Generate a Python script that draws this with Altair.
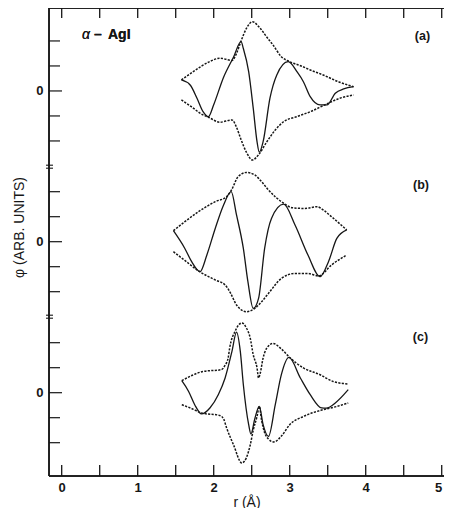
import altair as alt
import pandas as pd

# ---------------- data (r in Å, phi in tick units, per panel) ----------------
panels = ["a", "b", "c"]
panel_offsets = [6.03, 0.0, -6.04]          # vertical stacking of the three panels
panel_labels = ["(a)", "(b)", "(c)"]

# panel (a)
a_up_r = [1.575, 1.73, 1.95, 2.08, 2.24, 2.30, 2.36, 2.43, 2.51, 2.61, 2.70, 2.78, 2.89, 3.00, 3.15, 3.27, 3.44, 3.64, 3.84]
a_up_phi = [0.44, 0.77, 1.18, 1.31, 1.22, 1.50, 2.00, 2.50, 2.77, 2.51, 2.15, 1.84, 1.37, 1.17, 1.00, 0.84, 0.64, 0.37, 0.17]
a_lo_r = [1.575, 1.70, 1.86, 1.93, 2.08, 2.24, 2.30, 2.36, 2.43, 2.51, 2.59, 2.70, 2.81, 2.92, 3.09, 3.27, 3.46, 3.66, 3.84]
a_lo_phi = [-0.36, -0.62, -0.96, -1.05, -1.25, -1.16, -1.45, -1.95, -2.45, -2.76, -2.55, -2.03, -1.56, -1.23, -1.03, -0.83, -0.56, -0.29, -0.16]
a_re_r = [1.575, 1.69, 1.78, 1.86, 1.93, 2.00, 2.13, 2.26, 2.36, 2.39, 2.46, 2.52, 2.57, 2.60, 2.65, 2.74, 2.83, 2.98, 3.10, 3.18, 3.27, 3.40, 3.49, 3.60, 3.71, 3.84]
a_re_phi = [0.44, 0.24, -0.29, -0.83, -1.03, -0.55, 0.55, 1.35, 1.97, 1.70, 0.77, -0.69, -2.03, -2.45, -2.03, -0.29, 0.64, 1.17, 0.75, 0.37, -0.23, -0.56, -0.56, -0.09, 0.08, 0.17]

# panel (b)
b_up_r = [1.47, 1.62, 1.80, 2.02, 2.17, 2.24, 2.32, 2.43, 2.54, 2.63, 2.72, 2.92, 3.03, 3.20, 3.36, 3.45, 3.55, 3.75]
b_up_phi = [0.44, 0.80, 1.20, 1.60, 1.80, 2.10, 2.60, 2.77, 2.67, 2.40, 2.07, 1.54, 1.36, 1.33, 1.40, 1.25, 1.00, 0.47]
b_lo_r = [1.47, 1.62, 1.80, 2.02, 2.15, 2.22, 2.30, 2.43, 2.54, 2.63, 2.72, 2.89, 3.07, 3.24, 3.38, 3.55, 3.75]
b_lo_phi = [-0.40, -0.75, -1.17, -1.53, -1.73, -2.05, -2.53, -2.80, -2.67, -2.40, -2.07, -1.47, -1.27, -1.27, -1.37, -0.93, -0.53]
b_re_r = [1.47, 1.62, 1.71, 1.82, 1.91, 2.02, 2.13, 2.23, 2.30, 2.39, 2.45, 2.52, 2.59, 2.67, 2.76, 2.92, 3.07, 3.24, 3.40, 3.51, 3.62, 3.75]
b_re_phi = [0.44, -0.27, -0.80, -1.20, -0.53, 0.53, 1.47, 2.00, 1.07, -0.27, -1.60, -2.67, -2.27, -0.27, 0.93, 1.50, 0.67, -0.53, -1.40, -0.80, 0.13, 0.47]

# panel (c)
c_up_r = [1.58, 1.72, 1.86, 2.10, 2.15, 2.19, 2.21, 2.28, 2.37, 2.43, 2.48, 2.52, 2.57, 2.59, 2.61, 2.65, 2.70, 2.78, 2.89, 3.00, 3.18, 3.40, 3.57, 3.77]
c_up_phi = [0.48, 0.70, 0.85, 0.92, 1.10, 1.39, 1.79, 2.45, 2.79, 2.59, 2.19, 1.52, 0.99, 0.59, 0.75, 1.39, 1.79, 1.97, 1.75, 1.41, 0.99, 0.72, 0.45, 0.35]
c_lo_r = [1.58, 1.70, 1.84, 2.08, 2.13, 2.17, 2.26, 2.37, 2.43, 2.48, 2.52, 2.57, 2.60, 2.63, 2.67, 2.72, 2.79, 2.90, 3.00, 3.18, 3.44, 3.62, 3.77]
c_lo_phi = [-0.48, -0.62, -0.81, -0.91, -1.05, -1.41, -2.08, -2.81, -2.60, -2.10, -1.50, -0.95, -0.55, -1.10, -1.60, -1.85, -1.97, -1.70, -1.28, -0.95, -0.68, -0.55, -0.41]
c_re_r = [1.58, 1.67, 1.75, 1.84, 1.95, 2.06, 2.15, 2.24, 2.30, 2.35, 2.39, 2.46, 2.49, 2.54, 2.60, 2.65, 2.72, 2.81, 2.89, 2.99, 3.14, 3.27, 3.42, 3.48, 3.60, 3.77]
c_re_phi = [0.48, 0.05, -0.48, -0.85, -0.61, -0.08, 0.59, 1.65, 2.42, 1.65, 0.32, -1.28, -1.65, -1.05, -0.55, -1.28, -1.75, -0.48, 0.72, 1.41, 0.59, -0.08, -0.61, -0.62, -0.41, 0.12]

x_tick_values = [0, 0.5, 1, 1.5, 2, 2.5, 3, 3.5, 4, 4.5, 5]
x_label_values = [0, 1, 2, 3, 4, 5]
y_tick_steps = [-2, -1, 0, 1, 2]
axis_breaks = [3.0, -3.0]

# ---------------- build tables ----------------
series = {
    "a": [(a_up_r, a_up_phi, "env"), (a_lo_r, a_lo_phi, "env"), (a_re_r, a_re_phi, "re")],
    "b": [(b_up_r, b_up_phi, "env"), (b_lo_r, b_lo_phi, "env"), (b_re_r, b_re_phi, "re")],
    "c": [(c_up_r, c_up_phi, "env"), (c_lo_r, c_lo_phi, "env"), (c_re_r, c_re_phi, "re")],
}
rows = []
for p, off in zip(panels, panel_offsets):
    for k, (rs, ps, kind) in enumerate(series[p]):
        for i, (r, v) in enumerate(zip(rs, ps)):
            rows.append({"r": r, "y": v + off, "kind": kind, "sid": f"{p}{k}", "i": i})
df = pd.DataFrame(rows)

xt = pd.DataFrame({"r": x_tick_values})
yt = pd.DataFrame([{"y": off + s, "zero": int(s == 0)} for off in panel_offsets for s in y_tick_steps])
br = pd.DataFrame({"y": axis_breaks})

W, H = 395, 468
INK = "#161616"
FONT = "Liberation Sans"

xs = alt.Scale(domain=[-0.1671, 5.030], nice=False, zero=False)
ys = alt.Scale(domain=[-9.372, 9.348], nice=False, zero=False)

xaxis = alt.Axis(values=x_label_values, domain=False, ticks=False, tickSize=0, grid=False,
                 labelFont=FONT, labelFontSize=13, labelFontWeight="bold", labelColor=INK,
                 labelPadding=5, labelBound=False, labelOverlap=False, labelFlush=4,
                 title="r (Å)", titleFont=FONT, titleFontSize=14,
                 titleFontWeight="normal", titleColor=INK, titleBaseline="alphabetic", titleY=30)
yaxis = alt.Axis(values=panel_offsets, labelExpr="'0'", domain=False, ticks=False, tickSize=0,
                 grid=False, labelFont=FONT, labelFontSize=13, labelFontWeight="bold",
                 labelColor=INK, labelPadding=6, title="φ  (ARB. UNITS)", titleFont=FONT,
                 titleFontSize=14, titleFontWeight="normal", titleColor=INK, titleAngle=270,
                 titleX=-30, titleY=219, titleBaseline="middle", titleAlign="center")

X = alt.X("r:Q", scale=xs, axis=xaxis)
Y = alt.Y("y:Q", scale=ys, axis=yaxis)

env = alt.Chart(df).transform_filter(alt.datum.kind == "env").mark_line(
    interpolate="monotone", strokeDash=[2.2, 1.3], strokeWidth=1.5, color=INK
).encode(x=X, y=Y, detail="sid:N", order="i:Q")

re = alt.Chart(df).transform_filter(alt.datum.kind == "re").mark_line(
    interpolate="monotone", strokeWidth=1.3, color=INK
).encode(x=X, y=Y, detail="sid:N", order="i:Q")

# frame lines
frame_left = alt.Chart(br).mark_rule(color=INK, strokeWidth=1.5).encode(
    x=alt.value(0), y=alt.value(0), y2=alt.value(H))
frame_top = alt.Chart(br).mark_rule(color=INK, strokeWidth=1.6).encode(
    x=alt.value(0), x2=alt.value(W), y=alt.value(0))
frame_bot = alt.Chart(br).mark_rule(color=INK, strokeWidth=1.6).encode(
    x=alt.value(0), x2=alt.value(W), y=alt.value(H))

top_ticks = alt.Chart(xt).mark_rule(color=INK, strokeWidth=1.3).encode(
    x=X, y=alt.value(0), y2=alt.value(10))
bot_ticks = alt.Chart(xt).mark_rule(color=INK, strokeWidth=1.3).encode(
    x=X, y=alt.value(H), y2=alt.value(H - 11))

left_ticks_minor = alt.Chart(yt).transform_filter(alt.datum.zero == 0).mark_rule(
    color=INK, strokeWidth=1.2).encode(y=Y, x=alt.value(0), x2=alt.value(11))
left_ticks_zero = alt.Chart(yt).transform_filter(alt.datum.zero == 1).mark_rule(
    color=INK, strokeWidth=1.2).encode(y=Y, x=alt.value(0), x2=alt.value(13))

break_a = alt.Chart(br).mark_rule(color=INK, strokeWidth=1.1, yOffset=-1.5).encode(
    y=Y, x=alt.value(-3), x2=alt.value(4))
break_b = alt.Chart(br).mark_rule(color=INK, strokeWidth=1.1, yOffset=1.5).encode(
    y=Y, x=alt.value(-3), x2=alt.value(4))

# annotations
lab_df = pd.DataFrame({"t": panel_labels, "px": [373.5, 372, 371.5], "py": [28, 177.3, 328.7]})
labels = alt.Chart(lab_df).mark_text(font=FONT, fontSize=12.5, fontWeight="bold", color=INK,
                                     align="center", baseline="middle").encode(
    text="t:N", x=alt.X("px:Q", scale=None, axis=None), y=alt.Y("py:Q", scale=None, axis=None))

alpha = alt.Chart(br).mark_text(text="α", font=FONT, fontSize=14, fontStyle="italic", color=INK,
                                align="left", baseline="alphabetic").encode(
    x=alt.value(33), y=alt.value(31))
dash = alt.Chart(br).mark_text(text="–", font=FONT, fontSize=14, fontWeight="bold", color=INK,
                               align="left", baseline="alphabetic").encode(
    x=alt.value(45), y=alt.value(31))
agi = alt.Chart(br).mark_text(text="AgI", font=FONT, fontSize=14, fontWeight="bold", color=INK,
                              align="left", baseline="alphabetic").encode(
    x=alt.value(59), y=alt.value(31))

chart = alt.layer(
    env, re, frame_left, frame_top, frame_bot, top_ticks, bot_ticks,
    left_ticks_minor, left_ticks_zero, break_a, break_b, labels, alpha, dash, agi
).properties(
    width=W, height=H,
    autosize=alt.AutoSizeParams(type="none"),
    padding={"left": 41, "top": 0, "right": 0, "bottom": 32},
).configure_view(stroke=None).configure(background="white")

chart.save("out.html", embed_options={"renderer": "svg", "actions": False})
